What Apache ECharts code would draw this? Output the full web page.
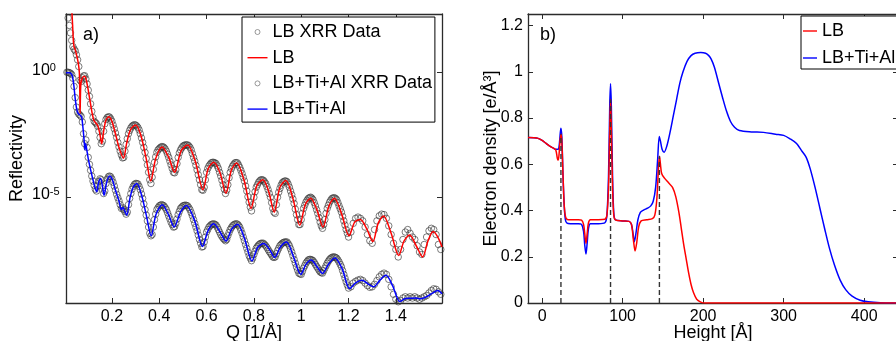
<!DOCTYPE html>
<html><head><meta charset="utf-8">
<script src="https://cdn.jsdelivr.net/npm/echarts@6/dist/echarts.min.js"></script>
<style>html,body{margin:0;padding:0;background:#fff}#c{width:896px;height:341px}</style>
</head><body><div id="c"></div>
<script>
const FONT = '"Liberation Sans", Arial, Helvetica, sans-serif';

// ---------- Panel a: reflectivity (values are log10 R) ----------
const qTicks = [0.2, 0.4, 0.6, 0.8, 1, 1.2, 1.4];
const logTicks = [0, -5];

const lbFit = [
[0.030,2.6],[0.034,1.9],[0.037,1.3],[0.040,1.05],[0.044,0.95],[0.049,0.78],[0.054,0.58],[0.059,0.32],[0.0625,0.0],[0.0645,-0.9],[0.0656,-1.63],[0.067,-0.9],[0.069,-0.45],[0.074,-0.24],[0.080,-0.15],[0.086,-0.15],[0.093,-0.35],[0.100,-0.7],[0.108,-1.15],[0.116,-1.6],[0.124,-1.92],[0.132,-2.02],[0.140,-2.12],[0.148,-2.4],[0.157,-2.85],[0.165,-2.35],[0.175,-1.9],[0.187,-1.77],[0.200,-1.95],[0.215,-2.45],[0.230,-3.0],[0.249,-3.43],[0.262,-2.85],[0.278,-2.3],[0.300,-2.1],[0.322,-2.5],[0.345,-3.45],[0.364,-4.35],[0.385,-3.45],[0.412,-2.98],[0.440,-3.4],[0.465,-4.0],[0.492,-3.15],[0.520,-2.9],[0.552,-3.55],[0.585,-4.7],[0.607,-3.85],[0.630,-3.6],[0.656,-4.0],[0.682,-4.84],[0.705,-3.9],[0.727,-3.63],[0.758,-4.3],[0.788,-5.45],[0.812,-4.55],[0.838,-4.3],[0.862,-4.75],[0.886,-5.6],[0.910,-4.6],[0.935,-4.33],[0.965,-5.05],[0.994,-6.13],[1.017,-5.3],[1.040,-5.04],[1.066,-5.5],[1.092,-6.2],[1.117,-5.35],[1.140,-5.04],[1.170,-5.65],[1.202,-6.55],[1.226,-6.0],[1.250,-5.9],[1.276,-6.25],[1.303,-6.78],[1.325,-6.05],[1.348,-5.75],[1.380,-6.45],[1.412,-7.34],[1.435,-6.75],[1.458,-6.52],[1.486,-6.95],[1.513,-7.4],[1.536,-6.75],[1.558,-6.38],[1.580,-6.65],[1.595,-7.0]
];

const tiFit = [
[0.006,0.0],[0.020,0.0],[0.028,-0.04],[0.034,-0.18],[0.039,-0.5],[0.045,-1.05],[0.051,-1.45],[0.057,-1.63],[0.065,-1.7],[0.072,-1.78],[0.077,-2.15],[0.082,-2.65],[0.086,-3.1],[0.089,-2.85],[0.093,-3.05],[0.100,-3.45],[0.110,-3.9],[0.120,-4.3],[0.128,-4.6],[0.136,-4.78],[0.144,-4.4],[0.152,-4.25],[0.159,-4.5],[0.167,-4.92],[0.178,-4.4],[0.190,-4.15],[0.202,-4.3],[0.216,-4.75],[0.230,-5.15],[0.240,-5.5],[0.247,-5.4],[0.254,-5.55],[0.263,-5.72],[0.276,-5.05],[0.290,-4.6],[0.305,-4.45],[0.325,-4.9],[0.346,-5.75],[0.366,-6.55],[0.386,-5.7],[0.413,-5.3],[0.440,-5.72],[0.463,-6.2],[0.490,-5.6],[0.515,-5.33],[0.550,-5.95],[0.583,-6.98],[0.606,-6.35],[0.630,-6.07],[0.656,-6.38],[0.682,-6.76],[0.706,-6.28],[0.731,-6.09],[0.760,-6.65],[0.792,-7.56],[0.816,-7.02],[0.842,-6.86],[0.866,-7.1],[0.888,-7.42],[0.912,-7.0],[0.938,-6.8],[0.966,-7.35],[0.998,-8.1],[1.020,-7.7],[1.042,-7.52],[1.066,-7.78],[1.090,-8.06],[1.116,-7.68],[1.142,-7.44],[1.172,-7.85],[1.205,-8.67],[1.230,-8.44],[1.257,-8.34],[1.282,-8.48],[1.306,-8.6],[1.332,-8.34],[1.358,-8.14],[1.386,-8.55],[1.417,-9.19],[1.440,-9.07],[1.462,-9.06],[1.485,-9.05],[1.505,-9.08],[1.530,-9.0],[1.555,-8.85],[1.577,-8.75],[1.595,-8.88]
];

const lbData = [
[0.010,2.5],[0.015,2.2],[0.020,1.9],[0.025,1.6],[0.030,1.3],[0.035,1.05],[0.040,0.95],[0.045,0.88],[0.050,0.72],[0.055,0.52],[0.060,0.25],[0.065,-0.3],[0.070,-0.35],[0.075,-0.2],[0.080,-0.13],[0.085,-0.12],[0.090,-0.25],[0.095,-0.45],[0.100,-0.7],[0.105,-0.95],[0.110,-1.25],[0.115,-1.55],[0.120,-1.8],[0.125,-1.95],[0.130,-2.0],[0.135,-2.05],[0.140,-2.15],[0.145,-2.35],[0.150,-2.6],[0.155,-2.85],[0.160,-2.75],[0.165,-2.35],[0.170,-2.05],[0.175,-1.88],[0.180,-1.8],[0.185,-1.77],[0.190,-1.78],[0.195,-1.85],[0.200,-1.95],[0.205,-2.1],[0.210,-2.25],[0.215,-2.42],[0.220,-2.6],[0.225,-2.8],[0.230,-2.98],[0.235,-3.15],[0.240,-3.3],[0.245,-3.42],[0.250,-3.4],[0.255,-3.15],[0.260,-2.88],[0.265,-2.65],[0.270,-2.45],[0.275,-2.32],[0.280,-2.22],[0.285,-2.15],[0.290,-2.11],[0.295,-2.09],[0.300,-2.1],
[0.31,-2.2],[0.32,-2.45],[0.33,-2.8],[0.34,-3.2],[0.35,-3.7],[0.36,-4.3],[0.365,-4.45],[0.37,-4.2],[0.38,-3.6],[0.39,-3.2],[0.40,-3.05],[0.41,-2.97],[0.42,-3.0],[0.43,-3.15],[0.44,-3.4],[0.45,-3.7],[0.46,-4.0],[0.47,-3.9],[0.48,-3.4],[0.49,-3.1],[0.50,-2.95],[0.51,-2.9],[0.52,-2.9],[0.53,-3.0],[0.54,-3.25],[0.55,-3.55],[0.56,-3.9],[0.57,-4.3],[0.58,-4.7],[0.59,-4.6],[0.60,-4.0],[0.61,-3.75],[0.62,-3.62],[0.63,-3.6],[0.64,-3.65],[0.65,-3.85],[0.66,-4.15],[0.67,-4.5],[0.68,-4.85],[0.69,-4.5],[0.70,-4.0],[0.71,-3.75],[0.72,-3.62],[0.73,-3.62],[0.74,-3.8],[0.75,-4.05],[0.76,-4.35],[0.77,-4.75],[0.78,-5.2],[0.79,-5.55],[0.80,-5.0],[0.81,-4.6],[0.82,-4.4],[0.83,-4.3],[0.84,-4.32],[0.85,-4.45],[0.86,-4.7],[0.87,-5.0],[0.88,-5.45],[0.89,-5.65],[0.90,-5.0],[0.91,-4.65],[0.92,-4.42],[0.93,-4.35],[0.94,-4.38],[0.95,-4.6],[0.96,-4.9],[0.97,-5.25],[0.98,-5.7],[0.99,-6.1],[1.00,-5.9],[1.01,-5.45],[1.02,-5.2],[1.03,-5.05],[1.04,-5.0],[1.05,-5.1],[1.06,-5.35],[1.07,-5.65],[1.08,-6.0],[1.09,-6.25],[1.10,-5.9],[1.11,-5.45],[1.12,-5.2],[1.13,-5.05],[1.14,-5.02],[1.15,-5.1],[1.16,-5.35],[1.17,-5.6],[1.18,-5.95],[1.19,-6.3],[1.20,-6.6],[1.21,-6.4],[1.22,-6.05],[1.23,-5.85],[1.24,-5.8],[1.25,-5.85],[1.26,-5.95],[1.27,-6.2],[1.28,-6.5],[1.29,-6.75],[1.30,-6.85],[1.31,-6.3],[1.32,-5.95],[1.33,-5.75],[1.34,-5.68],[1.35,-5.7],[1.36,-5.85],[1.37,-6.15],[1.38,-6.5],[1.39,-6.85],[1.40,-7.1],[1.41,-7.4],[1.42,-7.1],[1.43,-6.7],[1.44,-6.4],[1.45,-6.3],[1.46,-6.45],[1.47,-6.6],[1.48,-6.7],[1.49,-6.95],[1.50,-7.2],[1.51,-7.3],[1.52,-6.9],[1.53,-6.6],[1.54,-6.35],[1.55,-6.25],[1.56,-6.3],[1.57,-6.5],[1.58,-6.9],[1.59,-7.1]
];
const lbDataMid = [
[0.305,-2.14],[0.315,-2.3],[0.325,-2.62],[0.335,-3.0],[0.345,-3.45],[0.355,-4.0],[0.375,-3.88],[0.385,-3.38],[0.395,-3.1],[0.405,-3.0],[0.415,-2.97],[0.425,-3.06],[0.435,-3.27],[0.445,-3.55],[0.455,-3.85],[0.465,-4.02],[0.475,-3.65],[0.485,-3.22],[0.495,-3.02],[0.505,-2.92],[0.515,-2.9],[0.525,-2.94],[0.535,-3.1],[0.545,-3.4],[0.555,-3.72],[0.565,-4.1],[0.575,-4.5],[0.585,-4.72],[0.595,-4.3],[0.605,-3.85],[0.615,-3.68],[0.625,-3.6],[0.635,-3.62],[0.645,-3.74],[0.655,-4.0],[0.665,-4.32],[0.675,-4.68],[0.685,-4.72],[0.695,-4.22],[0.705,-3.85],[0.715,-3.68],[0.725,-3.61],[0.735,-3.7],[0.745,-3.92],[0.755,-4.2],[0.765,-4.55],[0.775,-4.98],[0.785,-5.4],[0.795,-5.3],[0.805,-4.78],[0.815,-4.5],[0.825,-4.34],[0.835,-4.3],[0.845,-4.38],[0.855,-4.57],[0.865,-4.85],[0.875,-5.22],[0.885,-5.6],[0.895,-5.3],[0.905,-4.8],[0.915,-4.52],[0.925,-4.38],[0.935,-4.35],[0.945,-4.48],[0.955,-4.75],[0.965,-5.07],[0.975,-5.48],[0.985,-5.9],[0.995,-6.1],[1.005,-5.65],[1.015,-5.32],[1.025,-5.12],[1.035,-5.02],[1.045,-5.04],[1.055,-5.22],[1.065,-5.5],[1.075,-5.82],[1.085,-6.15],[1.095,-6.1],[1.105,-5.65],[1.115,-5.32],[1.125,-5.12],[1.135,-5.03],[1.145,-5.05],[1.155,-5.22],[1.165,-5.47],[1.175,-5.77],[1.185,-6.12],[1.195,-6.45]
];

const tiData = [
[0.010,0.02],[0.015,0.02],[0.020,0.0],[0.025,-0.02],[0.030,-0.07],[0.035,-0.22],[0.040,-0.55],[0.045,-1.0],[0.050,-1.38],[0.055,-1.58],[0.060,-1.66],[0.065,-1.7],[0.070,-1.76],[0.075,-1.98],[0.080,-2.45],[0.085,-2.85],[0.090,-2.7],[0.095,-3.0],[0.100,-3.4],[0.105,-3.68],[0.110,-3.92],[0.115,-4.15],[0.120,-4.35],[0.125,-4.52],[0.130,-4.68],[0.135,-4.75],[0.140,-4.55],[0.145,-4.36],[0.150,-4.26],[0.155,-4.3],[0.160,-4.55],[0.165,-4.85],[0.170,-4.75],[0.175,-4.45],[0.180,-4.28],[0.185,-4.18],[0.190,-4.15],[0.195,-4.18],[0.200,-4.27],[0.205,-4.4],[0.210,-4.55],[0.215,-4.72],[0.220,-4.88],[0.225,-5.02],[0.230,-5.15],[0.235,-5.3],[0.240,-5.45],[0.245,-5.42],[0.250,-5.5],[0.255,-5.58],[0.260,-5.68],[0.265,-5.6],[0.270,-5.3],[0.275,-5.05],[0.280,-4.85],[0.285,-4.68],[0.290,-4.57],[0.295,-4.49],[0.300,-4.45],
[0.31,-4.47],[0.32,-4.7],[0.33,-5.05],[0.34,-5.5],[0.35,-5.95],[0.36,-6.45],[0.37,-6.5],[0.38,-5.9],[0.39,-5.5],[0.40,-5.35],[0.41,-5.3],[0.42,-5.35],[0.43,-5.5],[0.44,-5.75],[0.45,-6.0],[0.46,-6.2],[0.47,-6.05],[0.48,-5.7],[0.49,-5.45],[0.50,-5.35],[0.51,-5.32],[0.52,-5.35],[0.53,-5.5],[0.54,-5.75],[0.55,-6.05],[0.56,-6.35],[0.57,-6.7],[0.58,-7.0],[0.59,-6.8],[0.60,-6.4],[0.61,-6.2],[0.62,-6.1],[0.63,-6.07],[0.64,-6.12],[0.65,-6.3],[0.66,-6.5],[0.67,-6.65],[0.68,-6.75],[0.69,-6.55],[0.70,-6.3],[0.71,-6.15],[0.72,-6.08],[0.73,-6.08],[0.74,-6.2],[0.75,-6.45],[0.76,-6.75],[0.77,-7.05],[0.78,-7.35],[0.79,-7.55],[0.80,-7.3],[0.81,-7.05],[0.82,-6.92],[0.83,-6.85],[0.84,-6.85],[0.85,-6.95],[0.86,-7.1],[0.87,-7.25],[0.88,-7.4],[0.89,-7.4],[0.90,-7.15],[0.91,-6.95],[0.92,-6.85],[0.93,-6.8],[0.94,-6.8],[0.95,-6.95],[0.96,-7.2],[0.97,-7.5],[0.98,-7.8],[0.99,-8.05],[1.00,-8.1],[1.01,-7.85],[1.02,-7.65],[1.03,-7.52],[1.04,-7.5],[1.05,-7.55],[1.06,-7.7],[1.07,-7.85],[1.08,-8.0],[1.09,-8.05],[1.10,-7.85],[1.11,-7.65],[1.12,-7.5],[1.13,-7.42],[1.14,-7.4],[1.15,-7.45],[1.16,-7.6],[1.17,-7.8],[1.18,-8.1],[1.19,-8.4],[1.20,-8.65],[1.21,-8.6],[1.22,-8.45],[1.23,-8.38],[1.24,-8.33],[1.25,-8.3],[1.26,-8.35],[1.27,-8.45],[1.28,-8.55],[1.29,-8.62],[1.30,-8.6],[1.31,-8.5],[1.32,-8.35],[1.33,-8.2],[1.34,-8.1],[1.35,-8.05],[1.36,-8.1],[1.37,-8.3],[1.38,-8.6],[1.39,-8.9],[1.40,-9.1],[1.41,-9.2],[1.42,-9.15],[1.43,-9.05],[1.44,-9.0],[1.45,-9.05],[1.46,-9.0],[1.47,-9.05],[1.48,-9.0],[1.49,-9.05],[1.50,-9.1],[1.51,-9.05],[1.52,-9.0],[1.53,-8.95],[1.54,-8.85],[1.55,-8.75],[1.56,-8.68],[1.57,-8.7],[1.58,-8.8],[1.59,-8.9]
];
const tiDataMid = [
[0.305,-4.45],[0.315,-4.57],[0.325,-4.87],[0.335,-5.27],[0.345,-5.72],[0.355,-6.2],[0.365,-6.55],[0.375,-6.2],[0.385,-5.68],[0.395,-5.42],[0.405,-5.32],[0.415,-5.32],[0.425,-5.42],[0.435,-5.62],[0.445,-5.87],[0.455,-6.1],[0.465,-6.18],[0.475,-5.88],[0.485,-5.57],[0.495,-5.4],[0.505,-5.33],[0.515,-5.33],[0.525,-5.42],[0.535,-5.62],[0.545,-5.9],[0.555,-6.2],[0.565,-6.52],[0.575,-6.85],[0.585,-6.98],[0.595,-6.6],[0.605,-6.3],[0.615,-6.15],[0.625,-6.08],[0.635,-6.09],[0.645,-6.2],[0.655,-6.4],[0.665,-6.58],[0.675,-6.7],[0.685,-6.7],[0.695,-6.42],[0.705,-6.22],[0.715,-6.11],[0.725,-6.07],[0.735,-6.13],[0.745,-6.32],[0.755,-6.6],[0.765,-6.9],[0.775,-7.2],[0.785,-7.45],[0.795,-7.45],[0.805,-7.17],[0.815,-6.98],[0.825,-6.88],[0.835,-6.85],[0.845,-6.9],[0.855,-7.02],[0.865,-7.18],[0.875,-7.32],[0.885,-7.42],[0.895,-7.27],[0.905,-7.05],[0.915,-6.9],[0.925,-6.82],[0.935,-6.8],[0.945,-6.87],[0.955,-7.07],[0.965,-7.35],[0.975,-7.65],[0.985,-7.93],[0.995,-8.08],[1.005,-7.98],[1.015,-7.75],[1.025,-7.58],[1.035,-7.5],[1.045,-7.52],[1.055,-7.62],[1.065,-7.78],[1.075,-7.93],[1.085,-8.03],[1.095,-7.95],[1.105,-7.75],[1.115,-7.57],[1.125,-7.45],[1.135,-7.4],[1.145,-7.42],[1.155,-7.52],[1.165,-7.7],[1.175,-7.95],[1.185,-8.25],[1.195,-8.53]
];

// ---------- Panel b: electron density ----------
const hTicks = [0, 100, 200, 300, 400];
const rhoTicks = [0, 0.2, 0.4, 0.6, 0.8, 1, 1.2];

const lbDensity = [
[-17.5,0.716],[-10,0.715],[-5,0.712],[0,0.703],[5,0.69],[10,0.677],[14,0.67],[17,0.662],[19,0.625],[20,0.618],[21,0.64],[22.3,0.7],[23.5,0.73],[24.5,0.7],[26,0.55],[27.5,0.42],[29,0.375],[31,0.362],[35,0.36],[45,0.36],[49,0.358],[51.5,0.34],[53,0.3],[54.5,0.258],[56,0.3],[57.5,0.345],[60,0.36],[70,0.36],[78,0.362],[80.5,0.38],[82.5,0.5],[84,0.75],[85,0.88],[86,0.75],[87.5,0.5],[89,0.38],[91,0.36],[100,0.355],[108,0.353],[111,0.34],[113.5,0.27],[115.5,0.225],[117.5,0.26],[120,0.33],[123,0.355],[130,0.36],[137,0.365],[140,0.38],[142.5,0.45],[144.5,0.58],[145.8,0.635],[147,0.6],[148.5,0.56],[152,0.54],[157,0.52],[162,0.5],[166,0.46],[170,0.39],[173,0.32],[176,0.25],[179,0.19],[182,0.13],[185,0.08],[188,0.045],[192,0.016],[197,0.004],[202,0],[442,0]
];

const tiDensity = [
[-17.5,0.716],[-10,0.715],[-5,0.712],[0,0.703],[5,0.69],[10,0.677],[14,0.67],[17,0.665],[20,0.665],[21.5,0.69],[23.3,0.756],[24.5,0.72],[26,0.55],[27.5,0.42],[29,0.36],[31,0.345],[35,0.343],[45,0.343],[49,0.34],[51.5,0.31],[53,0.25],[54.5,0.212],[56,0.26],[57.5,0.32],[60,0.343],[70,0.343],[78,0.347],[80.5,0.38],[82.5,0.55],[84,0.85],[85,0.948],[86,0.85],[87.5,0.55],[89,0.39],[91,0.36],[100,0.355],[108,0.353],[111,0.34],[113,0.3],[114.5,0.265],[116.5,0.3],[119,0.36],[122,0.392],[126,0.402],[131,0.41],[135,0.42],[138,0.44],[141,0.5],[143.5,0.62],[145.5,0.72],[147,0.7],[149,0.665],[151.5,0.652],[155,0.68],[159,0.74],[163,0.81],[167,0.88],[171,0.95],[175,1.0],[180,1.045],[185,1.07],[190,1.08],[197,1.083],[203,1.08],[207,1.07],[210,1.055],[214,1.02],[219,0.955],[224,0.89],[229,0.83],[234,0.785],[239,0.76],[245,0.746],[260,0.74],[275,0.738],[290,0.73],[300,0.725],[308,0.71],[316,0.69],[322,0.66],[328,0.63],[333,0.58],[339,0.5],[345,0.41],[351,0.32],[357,0.235],[363,0.165],[370,0.1],[377,0.058],[385,0.03],[395,0.012],[405,0.005],[420,0.001],[442,0]
];

const interfaceH = [23.4, 85, 145.7];
const interfaceTop = [0.73, 0.88, 0.635];

// ---------- build ----------
const AX = '#2b2b2b';
const txt = {fontFamily: FONT, fontSize: 16, color: '#000'};
const nameStyle = {fontFamily: FONT, fontSize: 18, color: '#000'};
function boxAxis(extra) {
  return Object.assign({
    type: 'value', splitLine: {show: false}, nameMoveOverlap: false,
    axisLine: {show: true, onZero: false, lineStyle: {color: AX, width: 1.3}},
  }, extra);
}

const xAxes = [
  boxAxis({gridIndex: 0, position: 'bottom', min: 0.006, max: 1.595,
    axisTick: {inside: true, length: 5, customValues: qTicks, lineStyle: {color: AX}},
    axisLabel: Object.assign({customValues: qTicks, margin: 6}, txt),
    name: 'Q [1/Å]', nameLocation: 'middle', nameGap: 21, nameTextStyle: nameStyle}),
  boxAxis({gridIndex: 0, position: 'top', min: 0.006, max: 1.595,
    axisTick: {inside: true, length: 5, customValues: qTicks, lineStyle: {color: AX}},
    axisLabel: {show: false}}),
  boxAxis({gridIndex: 1, position: 'bottom', min: -17.5, max: 442,
    axisTick: {inside: true, length: 5, customValues: hTicks, lineStyle: {color: AX}},
    axisLabel: Object.assign({customValues: hTicks, margin: 6}, txt),
    name: 'Height [Å]', nameLocation: 'middle', nameGap: 21, nameTextStyle: nameStyle}),
  boxAxis({gridIndex: 1, position: 'top', min: -17.5, max: 442,
    axisTick: {inside: true, length: 5, customValues: hTicks, lineStyle: {color: AX}},
    axisLabel: {show: false}})
];

const yAxes = [
  boxAxis({gridIndex: 0, position: 'left', min: -9.25, max: 2.36,
    axisTick: {inside: true, length: 5, customValues: logTicks, lineStyle: {color: AX}},
    axisLabel: {customValues: logTicks, margin: 34, align: 'left', padding: [0, 0, 5, 0],
      formatter: v => '{b|10}{s|' + v + '}',
      rich: {
        b: {fontFamily: FONT, fontSize: 16, lineHeight: 16, verticalAlign: 'bottom', color: '#000'},
        s: {fontFamily: FONT, fontSize: 11, lineHeight: 11, verticalAlign: 'top', padding: [0, 0, 10, 0], color: '#000'}
      }},
    name: 'Reflectivity', nameLocation: 'middle', nameGap: 40, nameTextStyle: nameStyle}),
  boxAxis({gridIndex: 0, position: 'right', min: -9.25, max: 2.36,
    axisTick: {inside: true, length: 5, customValues: logTicks, lineStyle: {color: AX}},
    axisLabel: {show: false}}),
  boxAxis({gridIndex: 1, position: 'left', min: 0, max: 1.25,
    axisTick: {inside: true, length: 5, customValues: rhoTicks, lineStyle: {color: AX}},
    axisLabel: Object.assign({customValues: rhoTicks, margin: 5}, txt),
    name: 'Electron density [e/Å³]', nameLocation: 'middle', nameGap: 28, nameTextStyle: nameStyle}),
  boxAxis({gridIndex: 1, position: 'right', min: 0, max: 1.25,
    axisTick: {inside: true, length: 5, customValues: rhoTicks, lineStyle: {color: AX}},
    axisLabel: {show: false}})
];

const circleStyle = {color: 'rgba(0,0,0,0)', borderColor: 'rgba(50,50,50,0.8)', borderWidth: 1};
const series = [
  {name: 'LB XRR Data', type: 'scatter', xAxisIndex: 0, yAxisIndex: 0, data: lbData.concat(lbDataMid),
   symbol: 'circle', symbolSize: 6.5, itemStyle: circleStyle, z: 2, silent: true},
  {name: 'LB+Ti+Al XRR Data', type: 'scatter', xAxisIndex: 0, yAxisIndex: 0, data: tiData.concat(tiDataMid),
   symbol: 'circle', symbolSize: 6.5, itemStyle: circleStyle, z: 2, silent: true},
  {name: 'LB', type: 'line', xAxisIndex: 0, yAxisIndex: 0, data: lbFit, smooth: 0.3,
   symbol: 'none', lineStyle: {color: '#ff0000', width: 1.5}, itemStyle: {color: '#ff0000'}, z: 3},
  {name: 'LB+Ti+Al', type: 'line', xAxisIndex: 0, yAxisIndex: 0, data: tiFit, smooth: 0.3,
   symbol: 'none', lineStyle: {color: '#0000ff', width: 1.5}, itemStyle: {color: '#0000ff'}, z: 3},
  {name: 'LB', type: 'line', xAxisIndex: 2, yAxisIndex: 2, data: lbDensity, smooth: 0.3,
   symbol: 'none', lineStyle: {color: '#ff0000', width: 1.5}, itemStyle: {color: '#ff0000'}, z: 4},
  {name: 'LB+Ti+Al', type: 'line', xAxisIndex: 2, yAxisIndex: 2, data: tiDensity, smooth: 0.3,
   symbol: 'none', lineStyle: {color: '#0000ff', width: 1.5}, itemStyle: {color: '#0000ff'}, z: 3}
];
interfaceH.forEach((h, i) => {
  series.push({type: 'line', xAxisIndex: 2, yAxisIndex: 2, data: [[h, 0], [h, interfaceTop[i]]],
    symbol: 'none', silent: true, z: 5,
    lineStyle: {color: '#333', width: 1.4, type: [5, 3]}});
});

const circleIcon = 'path://M0,0M20,14M12.5,7A2.5,2.5,0,1,1,7.5,7A2.5,2.5,0,1,1,12.5,7Z';
const lineIcon = 'path://M0,0M20,14M0,6.3L20,6.3L20,7.7L0,7.7Z';
const lineIconB = 'path://M0,0M14,14M0,6.3L14,6.3L14,7.7L0,7.7Z';
const legendCircleStyle = {color: 'rgba(0,0,0,0)', borderColor: '#808080', borderWidth: 1};
const redIcon = {color: '#ff0000', borderWidth: 0};
const blueIcon = {color: '#0000ff', borderWidth: 0};

const option = {
  animation: false,
  backgroundColor: '#fff',
  grid: [
    {left: 66, top: 14, width: 376, height: 289, outerBoundsMode: 'none', containLabel: false},
    {left: 528, top: 14, width: 370, height: 289, outerBoundsMode: 'none', containLabel: false}
  ],
  xAxis: xAxes,
  yAxis: yAxes,
  legend: [
    {orient: 'vertical', left: 242, top: 17, padding: [6, 3, 4, 5], itemGap: 7.7,
     itemWidth: 20, itemHeight: 14, borderColor: '#000', borderWidth: 1, backgroundColor: '#fff',
     selectedMode: false,
     textStyle: {fontFamily: FONT, fontSize: 18, lineHeight: 14, color: '#000'},
     data: [
       {name: 'LB XRR Data', icon: circleIcon, itemStyle: legendCircleStyle},
       {name: 'LB', icon: lineIcon, itemStyle: redIcon},
       {name: 'LB+Ti+Al XRR Data', icon: circleIcon, itemStyle: legendCircleStyle},
       {name: 'LB+Ti+Al', icon: lineIcon, itemStyle: blueIcon}
     ]},
    {orient: 'vertical', left: 801, top: 16, padding: [6, 4, 2, 2], itemGap: 9,
     itemWidth: 14, itemHeight: 14, borderColor: '#000', borderWidth: 1, backgroundColor: '#fff',
     selectedMode: false,
     textStyle: {fontFamily: FONT, fontSize: 18, lineHeight: 14, color: '#000'},
     data: [{name: 'LB', icon: lineIconB, itemStyle: redIcon},
            {name: 'LB+Ti+Al', icon: lineIconB, itemStyle: blueIcon}]}
  ],
  graphic: [
    {type: 'text', left: 83, top: 26, style: {text: 'a)', font: '18px ' + FONT, fill: '#000'}},
    {type: 'text', left: 540, top: 26, style: {text: 'b)', font: '18px ' + FONT, fill: '#000'}}
  ],
  series: series
};

const chart = echarts.init(document.getElementById('c'), null, {renderer: 'canvas'});
chart.setOption(option);
</script>
</body></html>
